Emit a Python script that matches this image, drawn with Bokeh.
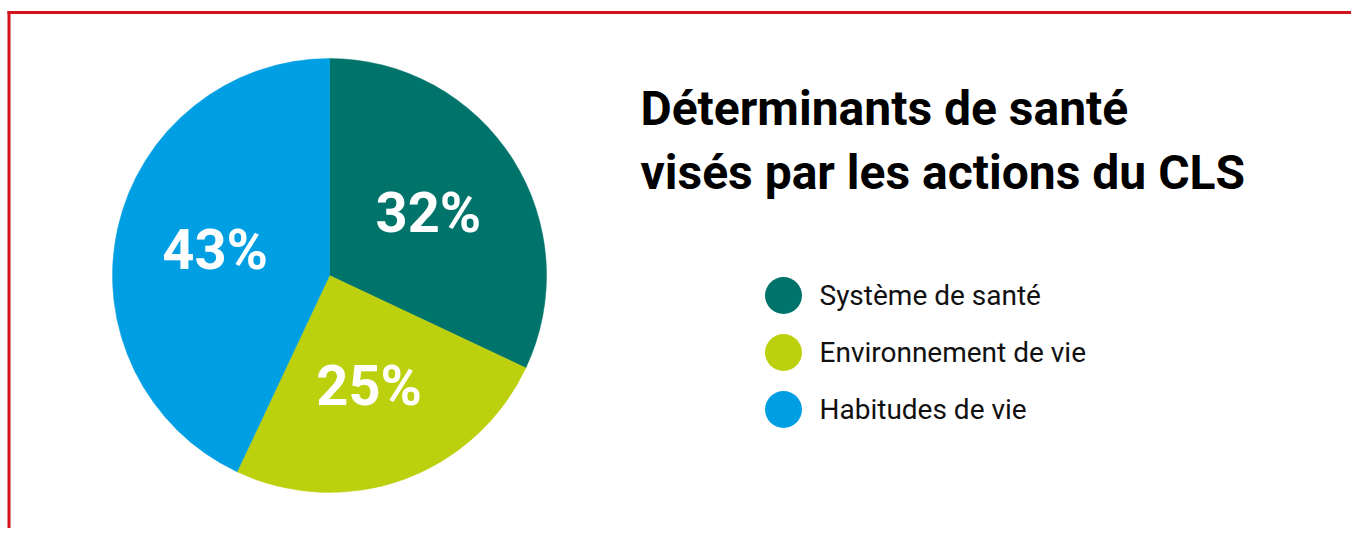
import math
from bokeh.plotting import figure
from bokeh.models import Range1d, ColumnDataSource
from bokeh.core.properties import value
from bokeh.embed import file_html
from bokeh.resources import INLINE

# ---- data ----
categories = ["Système de santé", "Environnement de vie", "Habitudes de vie"]
shares = [32, 25, 43]
labels = ["32%", "25%", "43%"]
colors = ["#00746B", "#BDD00E", "#009FE3"]
title_lines = ["Déterminants de santé", "visés par les actions du CLS"]

W, H = 1351, 528

def Y(page_y):
    return H - page_y

def X(page_x):
    return page_x

p = figure(width=W, height=H, output_backend="svg", toolbar_location=None,
           x_range=Range1d(0, W), y_range=Range1d(0, H), min_border=0)
p.axis.visible = False
p.grid.visible = False
p.outline_line_color = None
p.background_fill_color = "white"
p.border_fill_color = "white"

# red frame (top and left)
red = "#D3121B"
p.quad(left=[X(7)], right=[W + 5], bottom=[Y(13.5)], top=[Y(10.5)], fill_color=red, line_color=None)
p.quad(left=[X(7)], right=[X(10)], bottom=[-5], top=[Y(10.5)], fill_color=red, line_color=None)

# pie
cx, cy, R = X(329), Y(275), 217
total = float(sum(shares))
starts, ends, lx, ly = [], [], [], []
cum = 0.0
for s in shares:
    a0 = math.pi / 2 - 2 * math.pi * cum / total
    cum += s
    a1 = math.pi / 2 - 2 * math.pi * cum / total
    starts.append(a0)
    ends.append(a1)
    mid = (a0 + a1) / 2
    lx.append(cx + 0.54 * R * math.cos(mid))
    ly.append(cy + 0.54 * R * math.sin(mid))

src = ColumnDataSource(dict(start=starts, end=ends, color=colors, lx=lx, ly=ly, label=labels))
p.wedge(x=cx, y=cy, radius=R, start_angle="start", end_angle="end", direction="clock",
        fill_color="color", line_color="color", line_width=0.5, source=src)
p.text(x="lx", y="ly", text="label", source=src, text_color="white",
       text_font=value("Roboto"), text_font_style="bold", text_font_size="56px",
       text_align="center", text_baseline="middle")

# title
p.text(x=[X(640), X(640)], y=[Y(108), Y(172)], text=title_lines, text_color="black",
       text_font=value("Roboto"), text_font_style="bold", text_font_size="48px",
       text_align="left", text_baseline="middle")

# legend
leg_y = [Y(295), Y(352), Y(409)]
p.scatter(x=[X(783)] * 3, y=leg_y, size=37, marker="circle", fill_color=colors, line_color=None)
p.text(x=[X(819)] * 3, y=leg_y, text=categories, text_color="#111111",
       text_font=value("Roboto"), text_font_size="28px",
       text_align="left", text_baseline="middle")

open("out.html", "w").write(file_html(p, INLINE))
